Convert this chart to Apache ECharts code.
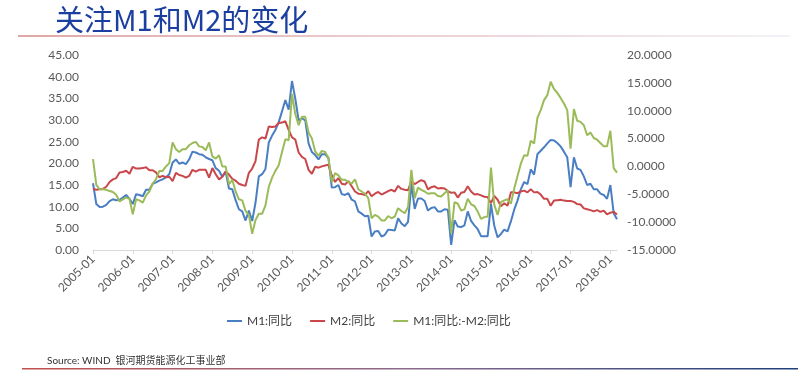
<!DOCTYPE html>
<html>
<head>
<meta charset="utf-8">
<script src="https://cdn.jsdelivr.net/npm/echarts@6/dist/echarts.min.js"></script>
<style>
html,body{margin:0;padding:0;background:#fff;}
#chart{width:802px;height:376px;}
</style>
</head>
<body>
<div id="chart"></div>
<script>
// Monthly categories 2005-01 .. 2018-03
const years = [2005,2006,2007,2008,2009,2010,2011,2012,2013,2014,2015,2016,2017,2018];
const categories = [];
years.forEach(y => { for (let m = 1; m <= 12; m++) { if (y === 2018 && m > 3) break; categories.push(y + '-' + (m < 10 ? '0' + m : m)); } });

// M1 YoY (%)
const m1 = [
  15.4,10.6,9.9,10.0,10.4,11.3,11.7,11.5,11.6,12.1,12.7,11.8,
  10.6,12.9,12.7,12.4,13.9,13.9,15.3,15.6,16.0,16.3,16.8,17.5,
  20.2,20.9,19.9,20.2,19.8,20.9,22.7,22.5,22.1,22.0,21.4,21.0,
  20.7,18.9,18.3,16.9,18.1,14.2,14.0,11.5,9.4,8.9,6.8,9.1,
  6.7,10.9,17.0,17.5,18.7,24.8,26.4,27.7,29.5,32.0,34.6,32.4,
  39.0,34.9,29.9,30.4,29.9,24.6,22.6,21.9,20.9,22.1,22.1,21.2,
  14.4,14.5,15.0,12.9,12.7,13.1,11.6,11.2,8.9,8.4,7.8,7.9,
  3.1,4.3,4.4,3.1,3.5,4.7,4.6,4.5,7.3,6.1,5.5,6.5,
  15.3,9.5,11.9,11.9,11.3,9.1,9.7,9.9,8.9,8.9,9.4,9.3,
  1.2,6.9,5.4,5.3,5.7,8.9,6.7,5.7,4.8,3.2,3.2,3.2,
  10.6,5.6,2.9,3.7,4.7,4.3,6.6,9.3,11.4,14.0,15.7,15.2,
  18.6,17.4,22.1,22.9,23.7,24.6,25.4,25.3,24.7,23.9,22.7,21.4,
  14.5,21.4,18.8,18.5,17.0,15.0,15.3,14.0,14.0,13.0,12.7,11.8,
  15.0,8.5,7.1
];
// M2 YoY (%)
const m2 = [
  14.1,13.9,14.0,14.1,14.6,15.7,16.3,16.6,17.9,18.0,18.3,17.6,
  19.2,18.8,18.8,18.9,19.1,18.4,18.4,17.9,16.8,17.1,16.8,16.9,
  15.9,17.8,17.3,17.1,16.7,17.1,18.5,18.1,18.5,18.5,18.5,16.7,
  18.9,17.5,16.3,16.9,18.1,17.4,16.4,16.0,15.3,15.0,14.8,17.8,
  18.8,20.5,25.5,26.0,25.7,28.5,28.4,28.5,29.3,29.4,29.7,27.7,
  26.0,25.5,22.5,21.5,21.0,18.5,17.6,19.2,19.0,19.3,19.5,19.7,
  17.2,15.7,16.6,15.3,15.1,15.9,14.7,13.5,13.0,12.9,12.7,13.6,
  12.4,13.0,13.4,12.8,13.2,13.6,13.9,13.5,14.8,14.1,13.9,13.8,
  15.9,15.2,15.7,16.1,15.8,14.0,14.5,14.7,14.2,14.3,14.2,13.6,
  13.2,13.3,12.1,13.2,13.4,14.7,13.5,12.8,12.9,12.6,12.3,12.2,
  10.8,12.5,11.6,10.1,10.8,10.2,13.3,13.3,13.1,13.5,13.7,13.3,
  14.0,13.3,13.4,12.8,11.8,11.8,10.2,11.4,11.5,11.6,11.4,11.3,
  11.3,11.1,10.6,10.5,9.6,9.4,9.2,8.9,9.2,8.8,9.1,8.2,
  8.6,8.8,8.2
];
// M1 YoY minus M2 YoY (right axis)
const spread = [
  1.3,-3.3,-4.1,-4.1,-4.2,-4.4,-4.6,-5.1,-6.3,-5.9,-5.6,-5.8,
  -8.6,-5.9,-6.1,-6.5,-5.2,-4.5,-3.1,-2.3,-0.8,-0.8,0.0,0.6,
  4.3,3.1,2.6,3.1,3.1,3.8,4.2,4.4,3.6,3.5,2.9,4.3,
  1.8,1.4,2.0,0.0,0.0,-3.2,-2.4,-4.5,-5.9,-6.1,-8.0,-8.7,
  -12.1,-9.6,-8.5,-8.5,-7.0,-3.7,-2.0,-0.8,0.2,2.6,4.9,4.7,
  13.0,9.4,7.4,8.9,8.9,6.1,5.0,2.7,1.9,2.8,2.6,1.5,
  -2.8,-1.2,-1.6,-2.4,-2.4,-2.8,-3.1,-2.3,-4.1,-4.5,-4.9,-5.7,
  -9.3,-8.7,-9.0,-9.7,-9.7,-8.9,-9.3,-9.0,-7.5,-8.0,-8.4,-7.3,
  -0.6,-5.7,-3.8,-4.2,-4.5,-4.9,-4.8,-4.8,-5.3,-5.4,-4.8,-4.3,
  -12.0,-6.4,-6.7,-7.9,-7.7,-5.8,-6.8,-7.1,-8.1,-9.4,-9.1,-9.0,
  -0.2,-6.9,-8.7,-6.4,-6.1,-5.9,-6.7,-4.0,-1.7,0.5,2.0,1.9,
  4.6,4.1,8.7,10.1,11.9,12.8,15.2,13.9,13.2,12.3,11.3,10.1,
  3.2,10.3,8.2,8.0,7.4,5.6,6.1,5.1,4.8,4.2,3.6,3.6,
  6.4,-0.3,-1.1
];
const seriesNames = ['M1:同比', 'M2:同比', 'M1:同比:-M2:同比'];
const titleText = '关注M1和M2的变化';
const sourceText = 'Source: WIND  银河期货能源化工事业部';

const FONT = 'Lato, "Noto Sans CJK SC", sans-serif';
const chart = echarts.init(document.getElementById('chart'), null, {renderer: 'canvas'});
const isYearStart = (i, v) => String(v).endsWith('-01');

chart.setOption({
  backgroundColor: '#fff',
  animation: false,
  title: {
    text: titleText, left: 50, top: 0,
    textStyle: {fontFamily: '"Noto Sans CJK SC", sans-serif', fontSize: 29, fontWeight: 'normal', color: '#1B3FA0'}
  },
  graphic: [
    {type: 'rect', shape: {x: 18, y: 35.5, width: 772, height: 1}, silent: true,
      style: {fill: new echarts.graphic.LinearGradient(0, 0, 1, 0, [
        {offset: 0, color: '#c0504d'}, {offset: 0.5, color: '#d8a0a8'}, {offset: 1, color: '#e6e6ee'}])}},
    {type: 'text', left: 47, top: 356, silent: true,
      style: {text: sourceText, fontSize: 10, fontFamily: FONT, fill: '#333'}},
    {type: 'rect', shape: {x: 22, y: 368, width: 776, height: 1.5}, silent: true,
      style: {fill: new echarts.graphic.LinearGradient(0, 0, 1, 0, [
        {offset: 0, color: '#c0504d'}, {offset: 0.5, color: '#8a6b8c'}, {offset: 1, color: '#1f3f7a'}])}}
  ],
  legend: {
    data: seriesNames, left: 222, top: 310, icon: 'rect', itemWidth: 15, itemHeight: 2, itemGap: 18,
    textStyle: {fontFamily: FONT, fontSize: 12, color: '#404040'}
  },
  grid: {left: 93, right: 185, top: 55, bottom: 126, containLabel: false},
  xAxis: {
    type: 'category', data: categories, boundaryGap: false,
    axisLine: {lineStyle: {color: '#d9d9d9', width: 1}},
    axisTick: {interval: isYearStart, length: 4, lineStyle: {color: '#d9d9d9'}},
    axisLabel: {interval: isYearStart, rotate: 45, margin: 7, fontFamily: FONT, fontSize: 12, color: '#595959'},
    splitLine: {show: false}
  },
  yAxis: [
    {type: 'value', min: 0, max: 45, interval: 5,
      axisLine: {show: false}, axisTick: {show: false}, splitLine: {show: false},
      axisLabel: {margin: 14, fontFamily: FONT, fontSize: 12, color: '#595959', formatter: v => v.toFixed(2)}},
    {type: 'value', min: -15, max: 20, interval: 5,
      axisLine: {show: false}, axisTick: {show: false}, splitLine: {show: false},
      axisLabel: {margin: 10, fontFamily: FONT, fontSize: 12, color: '#595959', formatter: v => v.toFixed(4)}}
  ],
  series: [
    {name: seriesNames[0], type: 'line', data: m1, yAxisIndex: 0, symbol: 'none', itemStyle: {color: '#4A7EC3'}, lineStyle: {width: 2, color: '#4A7EC3'}},
    {name: seriesNames[1], type: 'line', data: m2, yAxisIndex: 0, symbol: 'none', itemStyle: {color: '#C9474A'}, lineStyle: {width: 2, color: '#C9474A'}},
    {name: seriesNames[2], type: 'line', data: spread, yAxisIndex: 1, symbol: 'none', itemStyle: {color: '#9BBB59'}, lineStyle: {width: 2, color: '#9BBB59'}}
  ]
});
</script>
</body>
</html>
